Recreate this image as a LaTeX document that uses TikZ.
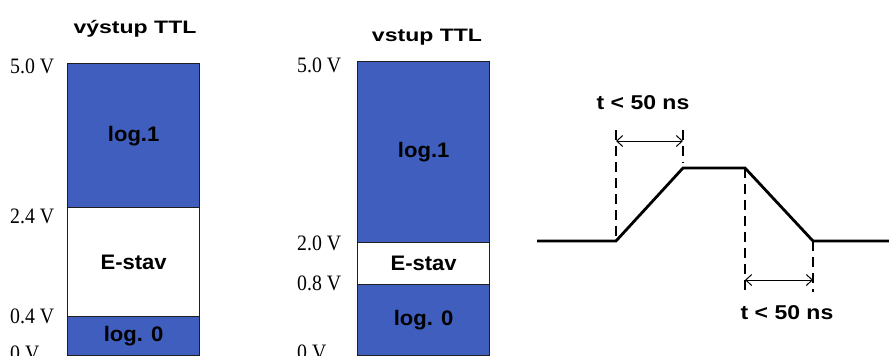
\documentclass[tikz,border=0pt]{standalone}
\usepackage{fontspec}
\setmainfont{Liberation Serif}
\newfontfamily\voltfont[FakeStretch=0.9]{Liberation Serif}
\newfontfamily\lblfont[FakeStretch=1.05]{Liberation Sans}
\newfontfamily\ttlfont[FakeStretch=1.28]{Liberation Sans}
\newfontfamily\dimfont[FakeStretch=1.15]{Liberation Sans}
\usetikzlibrary{arrows.meta}
\definecolor{blueF}{RGB}{63,94,189}
\definecolor{edge}{RGB}{30,30,30}
\begin{document}
\begin{tikzpicture}[x=1pt,y=-1pt,
  seg/.style={draw=edge,line width=1.3pt,minimum width=132pt,inner sep=0pt,anchor=north west,
    font=\lblfont\bfseries\fontsize{21}{23}\selectfont},
  hi/.style={seg,fill=blueF},
  lo/.style={seg,fill=white},
  title/.style={anchor=base,inner sep=0pt,font=\ttlfont\bfseries\fontsize{18}{20}\selectfont},
  volt/.style={anchor=west,inner sep=0pt,font=\voltfont\fontsize{22}{24}\selectfont},
  wave/.style={line width=2.8pt,line join=miter},
  dashline/.style={line width=1.4pt,dash pattern=on 10pt off 6pt},
  dim/.style={line width=1pt,{Straight Barb[length=6pt,width=11pt]}-{Straight Barb[length=6pt,width=11pt]}},
  tlabel/.style={inner sep=0pt,font=\dimfont\bfseries\fontsize{20}{22}\selectfont}]
\clip (0,0) rectangle (889,356);
% left column: vystup TTL
\node[title] (t1) at (135,33) {výstup TTL};
\node[hi,minimum height=144pt] (o1) at (67,63) {log.1};
\node[lo,minimum height=109pt] (oe) at (67,207) {E-stav};
\node[hi,minimum height=38.5pt] (o0) at (67,316) {log. 0};
\node[volt] (ov5) at (10,66) {5.0 V};
\node[volt] (ov24) at (10,216) {2.4 V};
\node[volt] (ov04) at (10,316) {0.4 V};
\node[volt] (ov0) at (10,353) {0 V};
% middle column: vstup TTL
\node[title] (t2) at (427,41) {vstup TTL};
\node[hi,minimum height=181pt] (i1) at (357,61) {log.1};
\node[lo,minimum height=42pt] (ie) at (357,242) {E-stav};
\node[hi,minimum height=70.5pt] (i0) at (357,284) {log. 0};
\node[volt] (iv5) at (297,65) {5.0 V};
\node[volt] (iv20) at (297,243) {2.0 V};
\node[volt] (iv08) at (297,283) {0.8 V};
\node[volt] (iv0) at (297,352) {0 V};
% waveform
\coordinate (w0) at (537,241);
\coordinate (w1) at (616,241);
\coordinate (w2) at (683,168);
\coordinate (w3) at (745,168);
\coordinate (w4) at (813,241);
\coordinate (w5) at (889,241);
\coordinate (d1) at (616,130);
\coordinate (d2) at (683,130);
\coordinate (d2b) at (683,163);
\coordinate (d3b) at (745,292);
\coordinate (d4b) at (813,292);
\coordinate (a1) at (616,141);
\coordinate (a2) at (683,141);
\coordinate (b1) at (745,280);
\coordinate (b2) at (813,280);
\draw[dashline] (d1) -- (w1);
\draw[dashline] (d2) -- (d2b);
\draw[dashline] (w3) -- (d3b);
\draw[dashline] (w4) -- (d4b);
\draw[wave] (w0) -- (w1) -- (w2) -- (w3) -- (w4) -- (w5);
\draw[dim] (a1) -- (a2);
\draw[dim] (b1) -- (b2);
\node[tlabel] (l1) at (643,103) {t < 50 ns};
\node[tlabel] (l2) at (787,313) {t < 50 ns};
\end{tikzpicture}
\end{document}
